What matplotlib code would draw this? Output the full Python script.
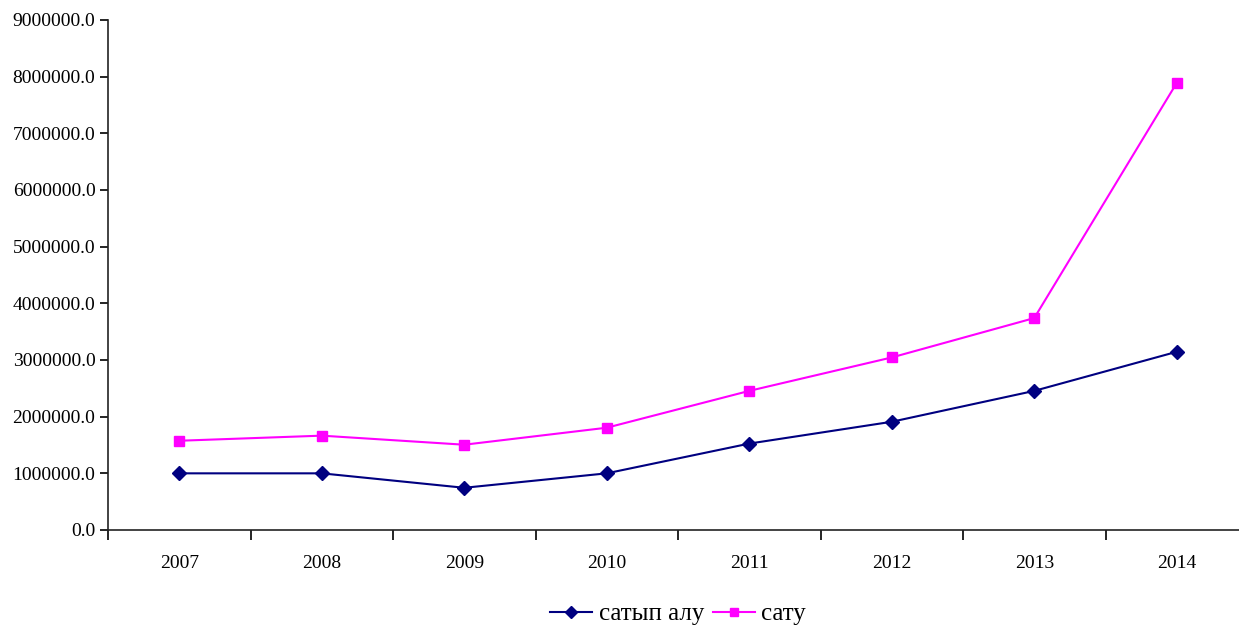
import matplotlib
matplotlib.use("Agg")
import matplotlib.pyplot as plt
from matplotlib.ticker import FuncFormatter, MultipleLocator

years = ["2007", "2008", "2009", "2010", "2011", "2012", "2013", "2014"]
purchase = [1000000, 1000000, 745000, 1000000, 1525000, 1910000, 2455000, 3145000]
sales = [1575000, 1665000, 1505000, 1805000, 2455000, 3045000, 3740000, 7890000]
series_names = ["сатып алу", "сату"]

plt.rcParams["font.family"] = ["Liberation Serif", "DejaVu Serif"]

W, H = 1239, 628
fig = plt.figure(figsize=(W / 100, H / 100), dpi=100)
left, right, top, bottom = 108, 1239, 20, 530
ax = fig.add_axes([left / W, 1 - bottom / H, (right - left) / W, (bottom - top) / H])

x = list(range(len(years)))
ax.plot(x, purchase, color="#000080", lw=1.5, marker="D", ms=7,
        label=series_names[0], clip_on=False)
ax.plot(x, sales, color="#FF00FF", lw=1.5, marker="s", ms=7,
        label=series_names[1], clip_on=False)

ax.set_xticks([i + 0.5 for i in range(-1, len(years) - 1)])
ax.set_xticklabels([])
ax.set_xticks(x, minor=True)
ax.set_xticklabels(years, minor=True)

# category width in pixels; the last slot runs past the right edge
step = 142.5
ax.set_xlim(-0.5, -0.5 + (right - left) / step)
ax.set_ylim(0, 9000000)
ax.yaxis.set_major_locator(MultipleLocator(1000000))
ax.yaxis.set_major_formatter(FuncFormatter(lambda v, p: f"{v:.1f}"))

ax.tick_params(axis="x", which="major", direction="out", length=7, width=1.2)
ax.tick_params(axis="x", which="minor", length=0, pad=18, labelsize=14)
ax.tick_params(axis="y", direction="out", length=6, width=1.2, labelsize=14, pad=3)

for s in ["top", "right"]:
    ax.spines[s].set_visible(False)
for s in ["left", "bottom"]:
    ax.spines[s].set_linewidth(1.2)
    ax.spines[s].set_color("#222222")

leg = fig.legend(loc="center", bbox_to_anchor=(678 / W, 1 - 614 / H), ncol=2,
                 frameon=False, fontsize=18, handlelength=1.7, markerscale=0.9,
                 columnspacing=0.35, handletextpad=0.25)

fig.savefig("out.png", dpi=100)
